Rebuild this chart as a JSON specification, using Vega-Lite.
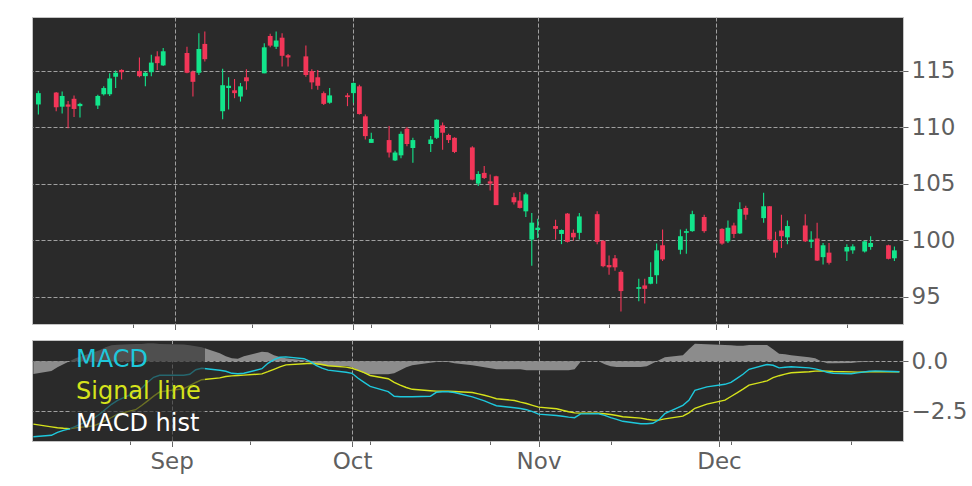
{
  "$schema": "https://vega.github.io/schema/vega-lite/v6.json",
  "background": "white",
  "padding": {"left": 31, "top": 16, "right": 0, "bottom": 0},
  "bounds": "flush",
  "spacing": 16,
  "config": {
    "font": "DejaVu Sans",
    "view": {"fill": "#2a2a2a", "stroke": "#c4c4c4", "strokeWidth": 1},
    "axis": {
      "domain": false,
      "zindex": 1,
      "gridColor": "#a0a0a0",
      "gridDash": [4, 2],
      "gridWidth": 1,
      "tickColor": "#666666",
      "labelColor": "#5f5f5f",
      "labelFontSize": 23,
      "labelFont": "DejaVu Sans"
    }
  },
  "datasets": {
    "ohlc": [
      {"d":"2019-08-09","o":112.0,"h":113.2,"l":111.1,"c":113.0},
      {"d":"2019-08-12","o":113.05,"h":113.1,"l":111.4,"c":111.75},
      {"d":"2019-08-13","o":111.8,"h":113.15,"l":111.2,"c":112.75},
      {"d":"2019-08-14","o":112.0,"h":112.3,"l":109.9,"c":111.8},
      {"d":"2019-08-15","o":112.5,"h":112.8,"l":110.9,"c":111.6},
      {"d":"2019-08-16","o":111.85,"h":112.15,"l":110.85,"c":112.05},
      {"d":"2019-08-19","o":111.9,"h":112.85,"l":111.6,"c":112.75},
      {"d":"2019-08-20","o":112.9,"h":113.6,"l":112.8,"c":113.45},
      {"d":"2019-08-21","o":112.9,"h":114.75,"l":112.75,"c":114.3},
      {"d":"2019-08-22","o":114.45,"h":115.0,"l":113.45,"c":114.8},
      {"d":"2019-08-23","o":115.05,"h":115.1,"l":114.2,"c":114.85},
      {"d":"2019-08-26","o":114.95,"h":116.15,"l":114.4,"c":114.5},
      {"d":"2019-08-27","o":114.5,"h":114.9,"l":113.6,"c":114.8},
      {"d":"2019-08-28","o":114.85,"h":116.4,"l":114.5,"c":115.7},
      {"d":"2019-08-29","o":116.25,"h":116.7,"l":115.05,"c":115.65},
      {"d":"2019-08-30","o":115.45,"h":117.0,"l":115.4,"c":116.7},
      {"d":"2019-09-03","o":116.55,"h":117.1,"l":114.75,"c":114.8},
      {"d":"2019-09-04","o":114.9,"h":115.0,"l":112.7,"c":114.0},
      {"d":"2019-09-05","o":114.8,"h":118.3,"l":114.6,"c":116.9},
      {"d":"2019-09-06","o":117.35,"h":118.45,"l":115.8,"c":116.0},
      {"d":"2019-09-09","o":111.4,"h":115.15,"l":110.7,"c":113.7},
      {"d":"2019-09-10","o":113.45,"h":114.4,"l":111.55,"c":113.65},
      {"d":"2019-09-11","o":113.25,"h":114.25,"l":112.55,"c":113.0},
      {"d":"2019-09-12","o":112.7,"h":113.9,"l":112.25,"c":113.6},
      {"d":"2019-09-13","o":114.4,"h":115.1,"l":113.3,"c":114.05},
      {"d":"2019-09-16","o":114.75,"h":117.4,"l":114.75,"c":117.05},
      {"d":"2019-09-17","o":118.05,"h":118.25,"l":117.05,"c":117.2},
      {"d":"2019-09-18","o":117.1,"h":118.45,"l":116.9,"c":117.65},
      {"d":"2019-09-19","o":117.9,"h":118.3,"l":115.35,"c":116.3},
      {"d":"2019-09-20","o":116.35,"h":116.45,"l":115.35,"c":116.15},
      {"d":"2019-09-23","o":116.25,"h":117.2,"l":114.45,"c":114.6},
      {"d":"2019-09-24","o":114.95,"h":115.1,"l":113.35,"c":113.95},
      {"d":"2019-09-25","o":114.4,"h":115.05,"l":113.3,"c":113.65},
      {"d":"2019-09-26","o":113.0,"h":113.15,"l":111.95,"c":112.05},
      {"d":"2019-09-27","o":112.15,"h":113.45,"l":112.05,"c":112.8},
      {"d":"2019-09-30","o":112.8,"h":113.0,"l":111.85,"c":112.65},
      {"d":"2019-10-01","o":113.0,"h":113.95,"l":112.15,"c":113.9},
      {"d":"2019-10-02","o":113.6,"h":113.75,"l":111.1,"c":111.15},
      {"d":"2019-10-03","o":110.95,"h":111.1,"l":108.9,"c":109.2},
      {"d":"2019-10-04","o":108.6,"h":109.5,"l":108.6,"c":108.95},
      {"d":"2019-10-07","o":108.85,"h":110.1,"l":107.3,"c":107.75},
      {"d":"2019-10-08","o":107.05,"h":107.9,"l":107.0,"c":107.75},
      {"d":"2019-10-09","o":107.5,"h":109.6,"l":107.25,"c":109.4},
      {"d":"2019-10-10","o":109.85,"h":110.0,"l":108.3,"c":108.5},
      {"d":"2019-10-11","o":108.15,"h":109.05,"l":106.85,"c":108.85},
      {"d":"2019-10-14","o":108.5,"h":109.2,"l":107.8,"c":108.9},
      {"d":"2019-10-15","o":109.05,"h":110.7,"l":108.95,"c":110.65},
      {"d":"2019-10-16","o":110.15,"h":110.4,"l":108.0,"c":109.5},
      {"d":"2019-10-17","o":109.3,"h":109.4,"l":108.6,"c":108.85},
      {"d":"2019-10-18","o":109.05,"h":109.1,"l":107.7,"c":107.8},
      {"d":"2019-10-21","o":108.2,"h":108.3,"l":105.3,"c":105.35},
      {"d":"2019-10-22","o":105.0,"h":106.1,"l":104.8,"c":105.85},
      {"d":"2019-10-23","o":105.95,"h":106.55,"l":105.4,"c":105.5},
      {"d":"2019-10-24","o":105.2,"h":105.8,"l":104.4,"c":105.0},
      {"d":"2019-10-25","o":105.65,"h":105.7,"l":103.1,"c":103.1},
      {"d":"2019-10-28","o":103.8,"h":104.2,"l":103.15,"c":103.35},
      {"d":"2019-10-29","o":103.5,"h":104.25,"l":102.8,"c":102.85},
      {"d":"2019-10-30","o":102.55,"h":104.2,"l":102.05,"c":104.05},
      {"d":"2019-10-31","o":100.05,"h":102.4,"l":97.75,"c":101.55},
      {"d":"2019-11-01","o":100.9,"h":101.9,"l":100.2,"c":101.1},
      {"d":"2019-11-04","o":101.25,"h":101.8,"l":100.05,"c":101.0},
      {"d":"2019-11-05","o":100.55,"h":100.95,"l":99.65,"c":100.9},
      {"d":"2019-11-06","o":102.35,"h":102.4,"l":99.8,"c":99.85},
      {"d":"2019-11-07","o":100.65,"h":100.95,"l":99.95,"c":100.25},
      {"d":"2019-11-08","o":100.65,"h":102.4,"l":100.05,"c":102.1},
      {"d":"2019-11-11","o":102.3,"h":102.55,"l":99.65,"c":99.85},
      {"d":"2019-11-12","o":99.95,"h":100.0,"l":97.6,"c":97.7},
      {"d":"2019-11-13","o":97.8,"h":98.65,"l":96.95,"c":97.6},
      {"d":"2019-11-14","o":98.4,"h":98.7,"l":97.3,"c":97.6},
      {"d":"2019-11-15","o":97.2,"h":97.35,"l":93.7,"c":95.5},
      {"d":"2019-11-18","o":95.7,"h":96.6,"l":94.6,"c":95.85},
      {"d":"2019-11-19","o":96.0,"h":96.6,"l":94.4,"c":95.7},
      {"d":"2019-11-20","o":96.15,"h":98.05,"l":96.1,"c":96.75},
      {"d":"2019-11-21","o":96.9,"h":99.7,"l":96.15,"c":99.1},
      {"d":"2019-11-22","o":99.55,"h":100.95,"l":98.15,"c":98.3},
      {"d":"2019-11-25","o":99.15,"h":100.95,"l":98.75,"c":100.35},
      {"d":"2019-11-26","o":100.65,"h":101.0,"l":98.8,"c":100.8},
      {"d":"2019-11-27","o":100.8,"h":102.6,"l":100.75,"c":102.3},
      {"d":"2019-11-29","o":102.05,"h":102.25,"l":100.65,"c":100.8},
      {"d":"2019-12-02","o":101.0,"h":101.05,"l":99.6,"c":99.7},
      {"d":"2019-12-03","o":99.9,"h":101.75,"l":99.75,"c":101.1},
      {"d":"2019-12-04","o":101.3,"h":101.55,"l":100.2,"c":100.55},
      {"d":"2019-12-05","o":100.6,"h":103.35,"l":100.55,"c":102.75},
      {"d":"2019-12-06","o":102.85,"h":103.05,"l":101.8,"c":102.25},
      {"d":"2019-12-09","o":101.95,"h":104.2,"l":101.55,"c":103.0},
      {"d":"2019-12-10","o":103.0,"h":103.0,"l":100.0,"c":100.05},
      {"d":"2019-12-11","o":99.95,"h":100.75,"l":98.45,"c":98.9},
      {"d":"2019-12-12","o":100.85,"h":102.25,"l":99.3,"c":100.35},
      {"d":"2019-12-13","o":100.25,"h":101.75,"l":99.65,"c":101.25},
      {"d":"2019-12-16","o":101.3,"h":102.3,"l":99.85,"c":99.9},
      {"d":"2019-12-17","o":99.85,"h":100.8,"l":99.3,"c":100.05},
      {"d":"2019-12-18","o":100.15,"h":101.55,"l":98.15,"c":98.2},
      {"d":"2019-12-19","o":98.5,"h":99.75,"l":97.85,"c":99.55},
      {"d":"2019-12-20","o":98.9,"h":99.75,"l":97.85,"c":98.0},
      {"d":"2019-12-23","o":99.0,"h":99.65,"l":98.15,"c":99.4},
      {"d":"2019-12-24","o":99.1,"h":99.65,"l":98.8,"c":99.45},
      {"d":"2019-12-26","o":99.0,"h":99.95,"l":98.9,"c":99.9},
      {"d":"2019-12-27","o":99.4,"h":100.35,"l":99.15,"c":99.75},
      {"d":"2019-12-30","o":99.55,"h":99.6,"l":98.3,"c":98.35},
      {"d":"2019-12-31","o":98.4,"h":99.45,"l":98.15,"c":99.1}
    ],
    "macd": [
      {"d":"2019-08-09","macd":-3.77,"signal":-3.14,"hist":-0.63},
      {"d":"2019-08-12","macd":-3.7,"signal":-3.28,"hist":-0.48},
      {"d":"2019-08-13","macd":-3.55,"signal":-3.32,"hist":-0.3},
      {"d":"2019-08-14","macd":-3.45,"signal":-3.35,"hist":-0.15},
      {"d":"2019-08-15","macd":-3.38,"signal":-3.37,"hist":0.0},
      {"d":"2019-08-16","macd":-3.25,"signal":-3.33,"hist":0.15},
      {"d":"2019-08-19","macd":-2.85,"signal":-3.23,"hist":0.45},
      {"d":"2019-08-20","macd":-2.65,"signal":-3.11,"hist":0.55},
      {"d":"2019-08-21","macd":-2.4,"signal":-2.97,"hist":0.7},
      {"d":"2019-08-22","macd":-2.15,"signal":-2.81,"hist":0.8},
      {"d":"2019-08-23","macd":-1.95,"signal":-2.64,"hist":0.83},
      {"d":"2019-08-26","macd":-1.55,"signal":-2.42,"hist":0.86},
      {"d":"2019-08-27","macd":-1.35,"signal":-2.21,"hist":0.87},
      {"d":"2019-08-28","macd":-1.05,"signal":-1.98,"hist":0.88},
      {"d":"2019-08-29","macd":-0.8,"signal":-1.74,"hist":0.88},
      {"d":"2019-08-30","macd":-0.7,"signal":-1.53,"hist":0.87},
      {"d":"2019-09-03","macd":-0.7,"signal":-1.37,"hist":0.84},
      {"d":"2019-09-04","macd":-0.65,"signal":-1.22,"hist":0.8},
      {"d":"2019-09-05","macd":-0.42,"signal":-1.06,"hist":0.75},
      {"d":"2019-09-06","macd":-0.35,"signal":-0.92,"hist":0.7},
      {"d":"2019-09-09","macd":-0.45,"signal":-0.83,"hist":0.4},
      {"d":"2019-09-10","macd":-0.5,"signal":-0.76,"hist":0.25},
      {"d":"2019-09-11","macd":-0.6,"signal":-0.73,"hist":0.15},
      {"d":"2019-09-12","macd":-0.62,"signal":-0.71,"hist":0.13},
      {"d":"2019-09-13","macd":-0.6,"signal":-0.69,"hist":0.25},
      {"d":"2019-09-16","macd":-0.37,"signal":-0.63,"hist":0.48},
      {"d":"2019-09-17","macd":-0.1,"signal":-0.52,"hist":0.45},
      {"d":"2019-09-18","macd":0.08,"signal":-0.4,"hist":0.3},
      {"d":"2019-09-19","macd":0.2,"signal":-0.28,"hist":0.22},
      {"d":"2019-09-20","macd":0.22,"signal":-0.18,"hist":0.15},
      {"d":"2019-09-23","macd":0.13,"signal":-0.12,"hist":0.05},
      {"d":"2019-09-24","macd":0.0,"signal":-0.1,"hist":-0.05},
      {"d":"2019-09-25","macd":-0.2,"signal":-0.12,"hist":-0.15},
      {"d":"2019-09-26","macd":-0.34,"signal":-0.16,"hist":-0.2},
      {"d":"2019-09-27","macd":-0.44,"signal":-0.22,"hist":-0.23},
      {"d":"2019-09-30","macd":-0.55,"signal":-0.29,"hist":-0.23},
      {"d":"2019-10-01","macd":-0.6,"signal":-0.35,"hist":-0.3},
      {"d":"2019-10-02","macd":-0.85,"signal":-0.45,"hist":-0.45},
      {"d":"2019-10-03","macd":-1.05,"signal":-0.57,"hist":-0.6},
      {"d":"2019-10-04","macd":-1.25,"signal":-0.71,"hist":-0.65},
      {"d":"2019-10-07","macd":-1.52,"signal":-0.87,"hist":-0.65},
      {"d":"2019-10-08","macd":-1.75,"signal":-1.05,"hist":-0.6},
      {"d":"2019-10-09","macd":-1.77,"signal":-1.19,"hist":-0.45},
      {"d":"2019-10-10","macd":-1.77,"signal":-1.31,"hist":-0.3},
      {"d":"2019-10-11","macd":-1.77,"signal":-1.4,"hist":-0.2},
      {"d":"2019-10-14","macd":-1.75,"signal":-1.47,"hist":-0.07},
      {"d":"2019-10-15","macd":-1.55,"signal":-1.49,"hist":-0.04},
      {"d":"2019-10-16","macd":-1.52,"signal":-1.5,"hist":-0.03},
      {"d":"2019-10-17","macd":-1.52,"signal":-1.5,"hist":-0.03},
      {"d":"2019-10-18","macd":-1.56,"signal":-1.51,"hist":-0.1},
      {"d":"2019-10-21","macd":-1.78,"signal":-1.56,"hist":-0.2},
      {"d":"2019-10-22","macd":-1.88,"signal":-1.63,"hist":-0.25},
      {"d":"2019-10-23","macd":-1.98,"signal":-1.7,"hist":-0.3},
      {"d":"2019-10-24","macd":-2.1,"signal":-1.78,"hist":-0.35},
      {"d":"2019-10-25","macd":-2.22,"signal":-1.87,"hist":-0.4},
      {"d":"2019-10-28","macd":-2.32,"signal":-1.96,"hist":-0.4},
      {"d":"2019-10-29","macd":-2.36,"signal":-2.04,"hist":-0.4},
      {"d":"2019-10-30","macd":-2.42,"signal":-2.11,"hist":-0.45},
      {"d":"2019-10-31","macd":-2.52,"signal":-2.2,"hist":-0.45},
      {"d":"2019-11-01","macd":-2.64,"signal":-2.29,"hist":-0.45},
      {"d":"2019-11-04","macd":-2.71,"signal":-2.37,"hist":-0.45},
      {"d":"2019-11-05","macd":-2.75,"signal":-2.45,"hist":-0.45},
      {"d":"2019-11-06","macd":-2.79,"signal":-2.52,"hist":-0.45},
      {"d":"2019-11-07","macd":-2.82,"signal":-2.58,"hist":-0.4},
      {"d":"2019-11-08","macd":-2.63,"signal":-2.59,"hist":-0.02},
      {"d":"2019-11-11","macd":-2.62,"signal":-2.6,"hist":0.0},
      {"d":"2019-11-12","macd":-2.7,"signal":-2.62,"hist":-0.15},
      {"d":"2019-11-13","macd":-2.82,"signal":-2.66,"hist":-0.25},
      {"d":"2019-11-14","macd":-2.9,"signal":-2.71,"hist":-0.28},
      {"d":"2019-11-15","macd":-3.0,"signal":-2.77,"hist":-0.28},
      {"d":"2019-11-18","macd":-3.12,"signal":-2.84,"hist":-0.28},
      {"d":"2019-11-19","macd":-3.12,"signal":-2.9,"hist":-0.25},
      {"d":"2019-11-20","macd":-3.1,"signal":-2.94,"hist":-0.1},
      {"d":"2019-11-21","macd":-2.93,"signal":-2.94,"hist":0.05},
      {"d":"2019-11-22","macd":-2.62,"signal":-2.88,"hist":0.2},
      {"d":"2019-11-25","macd":-2.2,"signal":-2.74,"hist":0.3},
      {"d":"2019-11-26","macd":-1.95,"signal":-2.58,"hist":0.6},
      {"d":"2019-11-27","macd":-1.45,"signal":-2.35,"hist":0.88},
      {"d":"2019-11-29","macd":-1.28,"signal":-2.14,"hist":0.85},
      {"d":"2019-12-02","macd":-1.15,"signal":-1.94,"hist":0.82},
      {"d":"2019-12-03","macd":-1.05,"signal":-1.76,"hist":0.8},
      {"d":"2019-12-04","macd":-0.85,"signal":-1.58,"hist":0.78},
      {"d":"2019-12-05","macd":-0.65,"signal":-1.39,"hist":0.78},
      {"d":"2019-12-06","macd":-0.4,"signal":-1.19,"hist":0.82},
      {"d":"2019-12-09","macd":-0.16,"signal":-0.98,"hist":0.82},
      {"d":"2019-12-10","macd":-0.2,"signal":-0.82,"hist":0.6},
      {"d":"2019-12-11","macd":-0.33,"signal":-0.72,"hist":0.38},
      {"d":"2019-12-12","macd":-0.3,"signal":-0.64,"hist":0.35},
      {"d":"2019-12-13","macd":-0.27,"signal":-0.57,"hist":0.3},
      {"d":"2019-12-16","macd":-0.33,"signal":-0.52,"hist":0.2},
      {"d":"2019-12-17","macd":-0.38,"signal":-0.49,"hist":0.15},
      {"d":"2019-12-18","macd":-0.45,"signal":-0.48,"hist":0.0},
      {"d":"2019-12-19","macd":-0.55,"signal":-0.49,"hist":-0.1},
      {"d":"2019-12-20","macd":-0.6,"signal":-0.51,"hist":-0.1},
      {"d":"2019-12-23","macd":-0.62,"signal":-0.53,"hist":-0.08},
      {"d":"2019-12-24","macd":-0.58,"signal":-0.54,"hist":-0.05},
      {"d":"2019-12-26","macd":-0.5,"signal":-0.53,"hist":-0.02},
      {"d":"2019-12-27","macd":-0.48,"signal":-0.52,"hist":0.0},
      {"d":"2019-12-30","macd":-0.51,"signal":-0.52,"hist":0.0},
      {"d":"2019-12-31","macd":-0.52,"signal":-0.52,"hist":0.0}
    ]
  },
  "vconcat": [
    {
      "width": 871,
      "height": 307,
      "data": {"name": "ohlc"},
      "encoding": {
        "x": {
          "field": "d", "type": "temporal",
          "scale": {"type": "utc", "domain": [{"year": 2019, "month": 8, "date": 8, "hours": 18, "minutes": 30, "utc": true}, {"year": 2019, "month": 12, "date": 31, "hours": 14, "minutes": 30, "utc": true}]},
          "axis": {
            "title": null,
            "labels": false,
            "values": [
              {"year": 2019, "month": 8, "date": 25, "utc": true},
              {"year": 2019, "month": 9, "date": 1, "utc": true},
              {"year": 2019, "month": 9, "date": 14, "utc": true},
              {"year": 2019, "month": 10, "date": 1, "utc": true},
              {"year": 2019, "month": 10, "date": 4, "utc": true},
              {"year": 2019, "month": 10, "date": 24, "utc": true},
              {"year": 2019, "month": 11, "date": 1, "utc": true},
              {"year": 2019, "month": 11, "date": 13, "utc": true},
              {"year": 2019, "month": 12, "date": 1, "utc": true},
              {"year": 2019, "month": 12, "date": 3, "utc": true},
              {"year": 2019, "month": 12, "date": 23, "utc": true}
            ],
            "grid": true,
            "gridOpacity": {"condition": {"test": "utcdate(datum.value) == 1", "value": 1}, "value": 0},
            "tickSize": {"condition": {"test": "utcdate(datum.value) == 1", "value": 5.5}, "value": 3.5}
          }
        },
        "y": {
          "type": "quantitative",
          "scale": {"domain": [92.59, 119.73], "nice": false, "zero": false},
          "axis": {"orient": "right", "title": null, "values": [95, 100, 105, 110, 115], "grid": true, "tickSize": 5, "labelPadding": 3}
        },
        "color": {
          "condition": {"test": "datum.c >= datum.o", "value": "#12e58b"},
          "value": "#f23658"
        }
      },
      "layer": [
        {
          "mark": {"type": "rule", "strokeWidth": 1.1, "clip": true},
          "encoding": {"y": {"field": "l", "type": "quantitative"}, "y2": {"field": "h"}}
        },
        {
          "mark": {"type": "bar", "size": 4.8, "clip": true},
          "encoding": {"y": {"field": "o", "type": "quantitative"}, "y2": {"field": "c"}}
        }
      ]
    },
    {
      "width": 871,
      "height": 101,
      "data": {"name": "macd"},
      "encoding": {
        "x": {
          "field": "d", "type": "temporal",
          "scale": {"type": "utc", "domain": [{"year": 2019, "month": 8, "date": 8, "hours": 18, "minutes": 30, "utc": true}, {"year": 2019, "month": 12, "date": 31, "hours": 14, "minutes": 30, "utc": true}]},
          "axis": {
            "title": null,
            "values": [
              {"year": 2019, "month": 8, "date": 25, "utc": true},
              {"year": 2019, "month": 9, "date": 1, "utc": true},
              {"year": 2019, "month": 9, "date": 14, "utc": true},
              {"year": 2019, "month": 10, "date": 1, "utc": true},
              {"year": 2019, "month": 10, "date": 4, "utc": true},
              {"year": 2019, "month": 10, "date": 24, "utc": true},
              {"year": 2019, "month": 11, "date": 1, "utc": true},
              {"year": 2019, "month": 11, "date": 13, "utc": true},
              {"year": 2019, "month": 12, "date": 1, "utc": true},
              {"year": 2019, "month": 12, "date": 3, "utc": true},
              {"year": 2019, "month": 12, "date": 23, "utc": true}
            ],
            "labelExpr": "utcdate(datum.value) == 1 ? utcFormat(datum.value, '%b') : ''",
            "labelPadding": 4,
            "grid": true,
            "gridOpacity": {"condition": {"test": "utcdate(datum.value) == 1", "value": 1}, "value": 0},
            "tickSize": {"condition": {"test": "utcdate(datum.value) == 1", "value": 5.5}, "value": 3.5}
          }
        },
        "y": {
          "type": "quantitative",
          "scale": {"domain": [-3.985, 1.065], "nice": false, "zero": false},
          "axis": {"orient": "right", "title": null, "values": [-2.5, 0], "format": ".1f", "grid": true, "tickSize": 5, "labelPadding": 3}
        }
      },
      "layer": [
        {
          "mark": {"type": "area", "clip": true, "opacity": 1},
          "encoding": {
            "y": {"field": "hist", "type": "quantitative"},
            "y2": {"datum": 0},
            "color": {"datum": "MACD hist"}
          }
        },
        {
          "mark": {"type": "line", "strokeWidth": 1.4, "clip": true},
          "encoding": {
            "y": {"field": "signal", "type": "quantitative"},
            "color": {"datum": "Signal line"}
          }
        },
        {
          "mark": {"type": "line", "strokeWidth": 1.4, "clip": true},
          "encoding": {
            "y": {"field": "macd", "type": "quantitative"},
            "color": {
              "datum": "MACD",
              "scale": {"domain": ["MACD", "Signal line", "MACD hist"], "range": ["#1ec8dc", "#d6e31b", "#8c8c8c"]},
              "legend": {
                "title": null,
                "orient": "none",
                "legendX": 38,
                "legendY": 327,
                "padding": 4,
                "fillColor": "rgba(42,42,42,0.62)",
                "strokeColor": null,
                "symbolSize": 0,
                "symbolOpacity": 0,
                "symbolStrokeWidth": 0,
                "labelOffset": -22,
                "labelFontSize": 24,
                "labelFont": "DejaVu Sans",
                "rowPadding": 8,
                "zindex": 1,
                "encode": {
                  "labels": {
                    "update": {
                      "fill": {"signal": "datum.value === 'MACD' ? '#1ec8dc' : (datum.value === 'Signal line' ? '#d6e31b' : '#ffffff')"}
                    }
                  }
                }
              }
            }
          }
        }
      ]
    }
  ]
}
